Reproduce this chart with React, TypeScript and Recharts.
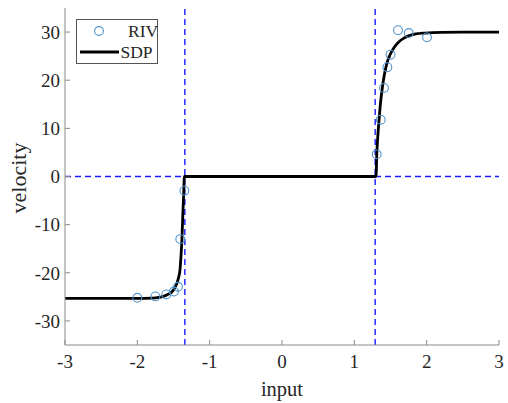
import React from 'react';
import {
  ComposedChart,
  Line,
  Scatter,
  XAxis,
  YAxis,
  ReferenceLine,
  Legend,
} from 'recharts';

// RIV measured points
const rivX = [-2.0, -1.75, -1.6, -1.494, -1.438, -1.407, -1.35, 1.309, 1.365, 1.41, 1.457, 1.5, 1.604, 1.752, 2.005];
const rivY = [-25.2, -24.9, -24.5, -23.9, -22.9, -13.0, -2.95, 4.6, 11.8, 18.4, 22.7, 25.3, 30.4, 29.8, 28.9];

// SDP fitted curve
const sdpX = [
  -3, -2.5, -2.0, -1.8, -1.7, -1.64, -1.58, -1.525, -1.49, -1.456, -1.43, -1.411, -1.395, -1.383, -1.37, -1.36, -1.35,
  0, 1.3, 1.31, 1.325, 1.342, 1.36, 1.387, 1.41, 1.434, 1.46, 1.494, 1.55, 1.61, 1.68, 1.75, 1.85, 1.98, 2.2, 2.5, 3,
];
const sdpY = [
  -25.3, -25.3, -25.3, -25.25, -25.1, -24.9, -24.5, -24.0, -23.3, -22.3, -21.0, -19.5, -16.2, -12.9, -7.5, -4.0, 0,
  0, 0, 4.5, 8.5, 11.8, 15.0, 18.4, 20.7, 22.5, 24.0, 25.3, 26.8, 27.9, 28.7, 29.2, 29.6, 29.8, 29.95, 30.0, 30.0,
];

const xTicks = [-3, -2, -1, 0, 1, 2, 3];
const yTicks = [-30, -20, -10, 0, 10, 20, 30];
const thresholds = [-1.343, 1.288];

const rivData = rivX.map((x, i) => ({ x, y: rivY[i] }));
const sdpData = sdpX.map((x, i) => ({ x, y: sdpY[i] }));

const FONT = '"Liberation Serif", "Times New Roman", serif';
const AXIS = '#8a8a8a';
const TXT = '#262626';
const RIV_COLOR = '#4f93cc';

const Circle = (props: any) => {
  const { cx, cy } = props;
  if (cx == null || cy == null) return null;
  return <circle cx={cx} cy={cy} r={4.4} fill="none" stroke={RIV_COLOR} strokeWidth={1.1} />;
};

const LegendBox = () => (
  <svg width={82} height={45} style={{ display: 'block' }}>
    <rect x={0.5} y={0.5} width={81} height={44} fill="#fff" stroke="#555" strokeWidth={1} />
    <circle cx={23} cy={12} r={4.4} fill="none" stroke={RIV_COLOR} strokeWidth={1.1} />
    <text x={52} y={18} fontFamily={FONT} fontSize={17.5} fill={TXT}>RIV</text>
    <line x1={4} x2={43} y1={33} y2={33} stroke="#000" strokeWidth={2.8} />
    <text x={44.5} y={38.5} fontFamily={FONT} fontSize={17.5} fill={TXT}>SDP</text>
  </svg>
);

const XTick = (props: any) => {
  const { x, y, payload } = props;
  return (
    <text x={x} y={y} dy="0.71em" textAnchor="middle" fontFamily={FONT} fontSize={19} fill={TXT}>
      {payload.value}
    </text>
  );
};

const YTick = (props: any) => {
  const { x, y, payload } = props;
  return (
    <text x={x} y={y} dy="0.355em" textAnchor="end" fontFamily={FONT} fontSize={19} fill={TXT}>
      {payload.value}
    </text>
  );
};

export default function App() {
  return (
    <div
      style={{
        position: 'absolute',
        left: 0,
        top: 0,
        width: 508,
        height: 403,
        background: '#fff',
        fontFamily: FONT,
      }}
    >
      <ComposedChart width={508} height={403} margin={{ top: 8, right: 9, bottom: 0, left: 0 }}>
        <XAxis
          xAxisId="b"
          dataKey="x"
          type="number"
          orientation="bottom"
          domain={[-3, 3]}
          ticks={xTicks}
          allowDataOverflow
          height={58}
          tickSize={-5}
          tickMargin={15}
          stroke={AXIS}
          tick={XTick}
          label={() => (
            <text x={282} y={396} textAnchor="middle" fontFamily={FONT} fontSize={20.5} fill={TXT}>
              input
            </text>
          )}
        />
        <XAxis
          xAxisId="t"
          dataKey="x"
          type="number"
          orientation="top"
          domain={[-3, 3]}
          ticks={xTicks}
          allowDataOverflow
          height={0}
          tickSize={-5}
          stroke={AXIS}
          tick={false}
        />
        <YAxis
          yAxisId="l"
          type="number"
          domain={[-35, 35]}
          ticks={yTicks}
          allowDataOverflow
          width={65}
          tickSize={-5}
          tickMargin={10}
          stroke={AXIS}
          tick={YTick}
          label={() => (
            <text
              x={26}
              y={178}
              transform="rotate(-90 26 178)"
              textAnchor="middle"
              fontFamily={FONT}
              fontSize={22}
              fill={TXT}
            >
              velocity
            </text>
          )}
        />
        <YAxis
          yAxisId="r"
          orientation="right"
          type="number"
          domain={[-35, 35]}
          ticks={yTicks}
          allowDataOverflow
          width={0}
          tickSize={-5}
          stroke={AXIS}
          tick={false}
        />
        <ReferenceLine xAxisId="b" yAxisId="l" y={0} stroke="#1a1aff" strokeWidth={1.4} strokeDasharray="6 4" />
        {thresholds.map((t) => (
          <ReferenceLine key={t} xAxisId="b" yAxisId="l" x={t} stroke="#1a1aff" strokeWidth={1.4} strokeDasharray="6 4" />
        ))}
        <Line
          xAxisId="b"
          yAxisId="l"
          data={sdpData}
          dataKey="y"
          type="monotone"
          stroke="#000"
          strokeWidth={2.8}
          dot={false}
          activeDot={false}
          isAnimationActive={false}
          name="SDP"
        />
        <Scatter
          xAxisId="b"
          yAxisId="l"
          data={rivData}
          dataKey="y"
          shape={Circle}
          isAnimationActive={false}
          name="RIV"
        />
        <Legend
          layout="vertical"
          align="center"
          verticalAlign="middle"
          wrapperStyle={{ left: 76, top: 19, width: 82, height: 45 }}
          content={() => <LegendBox />}
        />
      </ComposedChart>
    </div>
  );
}
